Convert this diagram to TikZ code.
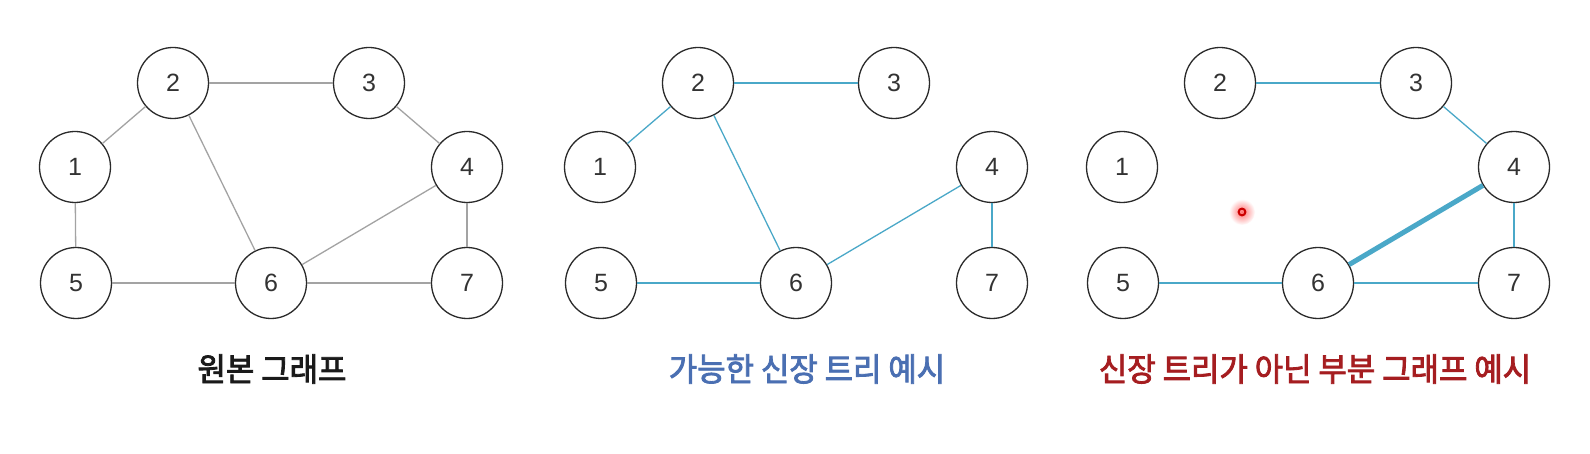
\documentclass[tikz,border=0pt]{standalone}
\usepackage{fontspec}
\setmainfont{Liberation Sans}
\newfontfamily\kofont[FakeStretch=0.95,FakeBold=2.5]{Noto Sans CJK KR}
\definecolor{edgegray}{HTML}{A3A3A3}
\definecolor{edgecyan}{HTML}{4AA8C8}
\definecolor{ringcol}{HTML}{2A2A2A}
\definecolor{numcol}{HTML}{333333}
\definecolor{tblue}{HTML}{4A6FB2}
\definecolor{tred}{HTML}{A51D20}
\definecolor{tblack}{HTML}{1A1A1A}
\tikzset{
  vtx/.style={circle, draw=ringcol, line width=1.3pt, minimum size=71pt, inner sep=0pt,
    fill=white, text=numcol, font=\fontsize{25}{25}\selectfont},
  gedge/.style={draw=edgegray, line width=1.3pt},
  cedge/.style={draw=edgecyan, line width=1.3pt},
  thickedge/.style={draw=edgecyan, line width=5pt},
  title/.style={font=\kofont\fontsize{32.5}{32.5}\selectfont, anchor=center},
}
\begin{document}
\begin{tikzpicture}[x=1pt,y=-1pt]
\useasboundingbox (0,0) rectangle (1590,454);
\fill[white] (0,0) rectangle (1590,454);
\foreach \p/\ox in {a/75,b/600,c/1122}{
  \node[vtx] (\p1) at (\ox+0,167) {1};
  \node[vtx] (\p2) at (\ox+98,83) {2};
  \node[vtx] (\p3) at (\ox+294,83) {3};
  \node[vtx] (\p4) at (\ox+392,167) {4};
  \node[vtx] (\p5) at (\ox+1,283) {5};
  \node[vtx] (\p6) at (\ox+196,283) {6};
  \node[vtx] (\p7) at (\ox+392,283) {7};
}
% panel 1 edges
\foreach \u/\v in {1/2,2/3,2/6,3/4,1/5,4/6,4/7,5/6,6/7}{
  \draw[gedge] (a\u) -- (a\v);
}
% panel 2 edges
\foreach \u/\v in {1/2,2/3,2/6,4/6,4/7,5/6}{
  \draw[cedge] (b\u) -- (b\v);
}
% panel 3 edges
\foreach \u/\v in {2/3,3/4,4/7,5/6,6/7}{
  \draw[cedge] (c\u) -- (c\v);
}
\draw[thickedge] (c4) -- (c6);
% pointer
\coordinate (ptr) at (1242,212);
\shade[inner color=red!55, outer color=white] (ptr) circle (13);
\draw[draw=red!80!black, line width=2pt] (ptr) circle (3.4);
% titles
\node[title, text=tblack] (t1) at (272,369) {원본 그래프};
\node[title, text=tblue] (t2) at (807,369) {가능한 신장 트리 예시};
\node[title, text=tred] (t3) at (1315,369) {신장 트리가 아닌 부분 그래프 예시};
\end{tikzpicture}
\end{document}
